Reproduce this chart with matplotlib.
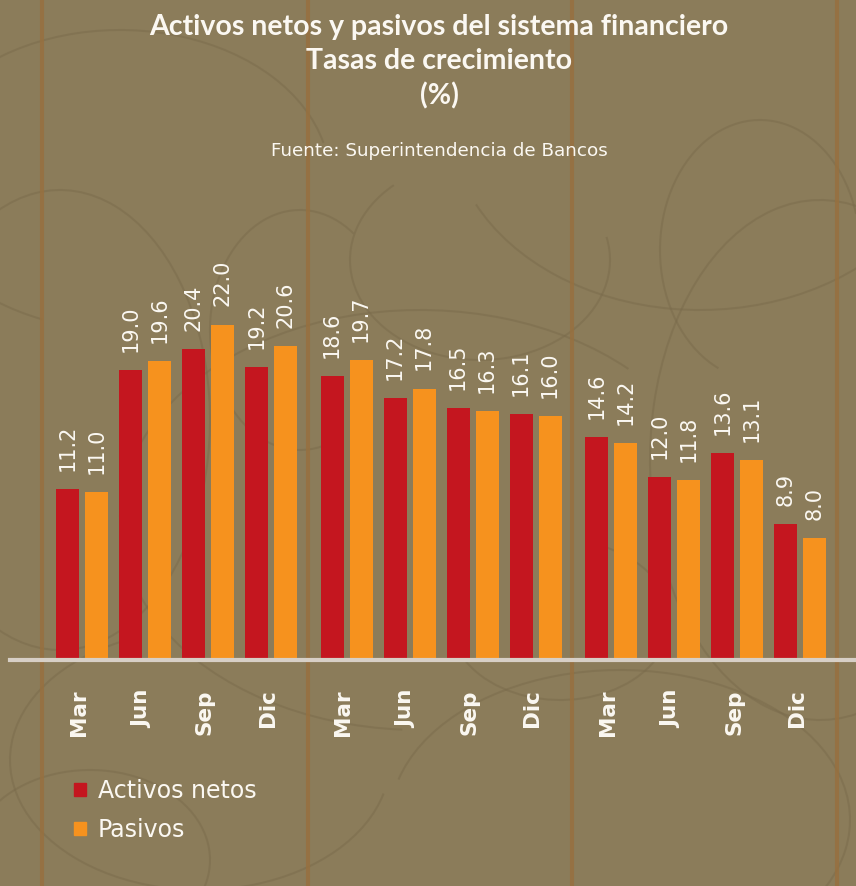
import matplotlib
matplotlib.use("Agg")
import matplotlib.pyplot as plt
import matplotlib.transforms as mtransforms
from matplotlib.patches import Patch, Arc
import numpy as np

# Datos (tasas de crecimiento, %)
trimestres = ["Mar", "Jun", "Sep", "Dic"] * 3
activos = [11.2, 19.0, 20.4, 19.2, 18.6, 17.2, 16.5, 16.1, 14.6, 12.0, 13.6, 8.9]
pasivos = [11.0, 19.6, 22.0, 20.6, 19.7, 17.8, 16.3, 16.0, 14.2, 11.8, 13.1, 8.0]

# Colores
FONDO = "#8b7c5a"
ROJO = "#c4161f"
NARANJA = "#f6921e"
BLANCO = "#fbf8f2"

W, H = 856, 886
fig = plt.figure(figsize=(W / 100, H / 100), dpi=100, facecolor=FONDO)

# textura de fondo (arcos tenues)
arcos = [(120, 180, 420, 300, 10), (700, 120, 500, 380, 200), (420, 520, 600, 420, 35),
         (200, 760, 380, 260, 120), (620, 820, 460, 300, 300), (820, 460, 340, 520, 80),
         (60, 420, 300, 460, 250), (480, 260, 260, 200, 140), (300, 330, 180, 240, 60),
         (560, 620, 220, 160, 190), (90, 860, 240, 180, 330), (760, 250, 200, 260, 20)]
for cx_, cy_, w_, h_, ang in arcos:
    fig.add_artist(Arc((cx_ / W, 1 - cy_ / H), w_ / W, h_ / H, angle=0, theta1=ang,
                       theta2=ang + 230, transform=fig.transFigure, color="#7a6b4c",
                       lw=1.5, alpha=0.5, zorder=0))

# posiciones: un hueco extra entre años
n = len(trimestres)
pos = np.arange(n) + (np.arange(n) // 4) * 0.2
ancho = 0.365
sep = 0.46

base_px = 660
top_px = 200
ax = fig.add_axes([10 / W, (H - base_px) / H, (W - 10) / W, (base_px - top_px) / H])
ax.set_facecolor("none")
ax.set_xlim(-0.913, 12.516)
ax.set_ylim(0, (base_px - top_px) / 15.25)

# líneas verticales de fondo (separan los años)
trans = mtransforms.blended_transform_factory(ax.transData, fig.transFigure)
for x in [-0.405, 3.815, 8.015, 12.215]:
    fig.add_artist(plt.Line2D([x, x], [0, 1], transform=trans, color="#97703f",
                              lw=3, alpha=0.85, zorder=0))

ax.bar(pos, activos, width=ancho, color=ROJO, zorder=3)
ax.bar(pos + sep, pasivos, width=ancho, color=NARANJA, zorder=3)

for x, a, p in zip(pos, activos, pasivos):
    for xx, v in [(x, a), (x + sep, p)]:
        ax.annotate(f"{v:.1f}", (xx, v), xytext=(0, 13), textcoords="offset points",
                    rotation=90, ha="center", va="bottom", color=BLANCO,
                    fontsize=15, family="DejaVu Sans")

# etiquetas del eje x
for x, t in zip(pos, trimestres):
    ax.annotate(t, (x + sep / 2 - 0.05, 0), xytext=(0, -21), textcoords="offset points",
                rotation=90, ha="center", va="top", color=BLANCO,
                fontsize=15.5, family="DejaVu Sans", fontweight="semibold")

ax.axhline(0, color="#d7cfc6", lw=3, zorder=4, clip_on=False)
for s in ax.spines.values():
    s.set_visible(False)
ax.set_xticks([])
ax.set_yticks([])

# títulos
cx = 439 / W
for y, txt in [(27, "Activos netos y pasivos del sistema financiero"),
               (61, "Tasas de crecimiento"), (96, "(%)")]:
    fig.text(cx, 1 - y / H, txt, ha="center", va="center", color=BLANCO,
             fontsize=20.5, fontweight="bold", family="Lato")
fig.text(cx, 1 - 151 / H, "Fuente: Superintendencia de Bancos", ha="center", va="center",
         color=BLANCO, fontsize=13.2, family="DejaVu Sans")

# leyenda
handles = [Patch(color=ROJO, label="Activos netos"), Patch(color=NARANJA, label="Pasivos")]
leg = fig.legend(handles=handles, loc="upper left", bbox_to_anchor=(74 / W, 1 - 779 / H),
                 frameon=False, handlelength=0.5, handleheight=0.5,
                 handletextpad=0.5, labelspacing=0.62, borderpad=0, borderaxespad=0,
                 prop={"family": "DejaVu Sans", "size": 17})
for t in leg.get_texts():
    t.set_color(BLANCO)

fig.savefig("out.png", dpi=100, facecolor=FONDO)
